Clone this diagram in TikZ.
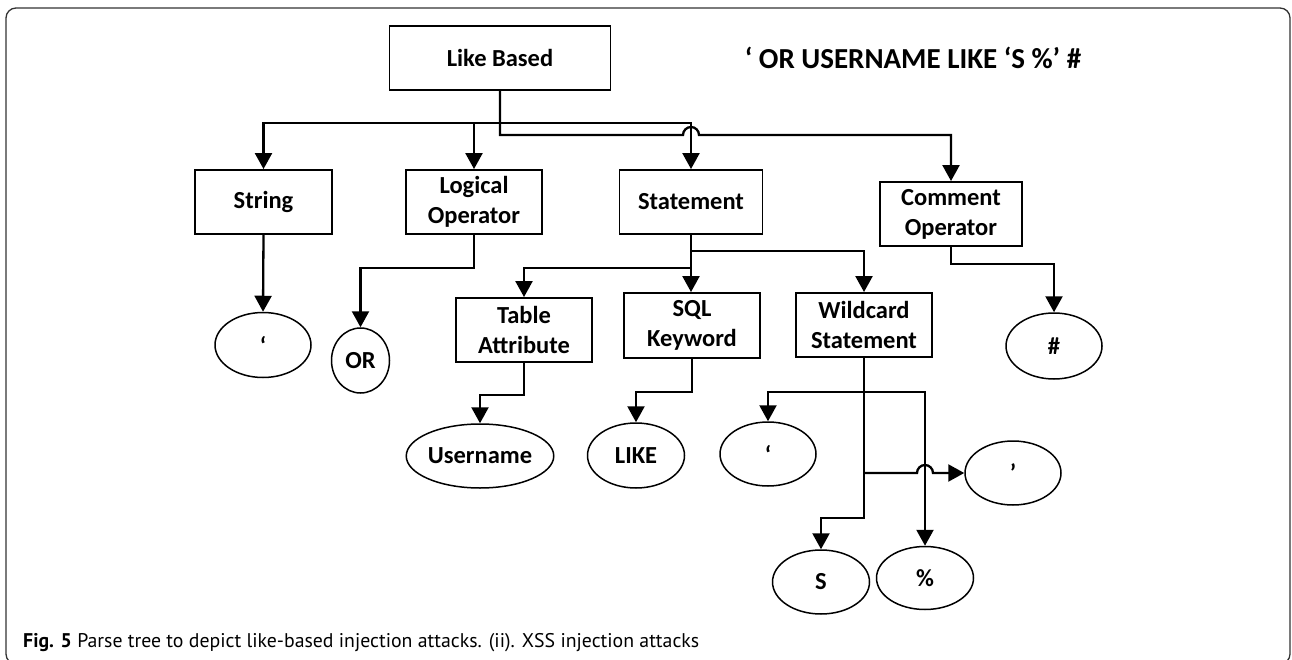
\documentclass[tikz,border=0pt]{standalone}
\usepackage{fontspec}
\setmainfont{Carlito}
\newfontfamily\capfont{PT Sans}
\usetikzlibrary{arrows.meta,shapes.geometric}
\begin{document}
\begin{tikzpicture}[x=1pt,y=-1pt,
  box/.style={draw, line width=1.9pt, inner sep=0pt, align=center, font=\fontsize{24.5}{30}\selectfont\bfseries},
  oval/.style={draw, ellipse, line width=1.5pt, inner sep=0pt, font=\fontsize{24.5}{30}\selectfont\bfseries},
  conn/.style={line width=2.3pt, -{Triangle[width=17pt,length=16pt]}},
  plain/.style={line width=2.3pt}
]
\useasboundingbox (0,0) rectangle (1292,660);
\draw[line width=1.3pt, black!80, rounded corners=10pt] (6,8) rectangle (1290,664);

% boxes
\node[box, minimum width=221pt, minimum height=64pt] (root) at (500,58) {Like Based};
\node[box, minimum width=137pt, minimum height=64pt] (str) at (263.5,202) {String};
\node[box, minimum width=136pt, minimum height=64pt] (logic) at (474,202) {Logical\\Operator};
\node[box, minimum width=143pt, minimum height=64pt] (stmt) at (691,202) {Statement};
\node[box, minimum width=142pt, minimum height=64pt] (cmt) at (951,214) {Comment\\Operator};
\node[box, minimum width=136pt, minimum height=64pt] (tab) at (524,330) {Table\\Attribute};
\node[box, minimum width=136pt, minimum height=65pt] (sql) at (692,325.5) {SQL\\Keyword};
\node[box, minimum width=136pt, minimum height=64pt] (wild) at (864,325) {Wildcard\\Statement};

% ellipses
\node[oval, minimum width=96pt, minimum height=65pt] (q1) at (263,345) {‘};
\node[oval, minimum width=58pt, minimum height=65pt] (or) at (360.5,360.5) {OR};
\node[oval, minimum width=96pt, minimum height=66pt] (hash) at (1054,346) {\#};
\node[oval, minimum width=142pt, minimum height=64pt] (user) at (480,456) {Username};
\node[oval, minimum width=97pt, minimum height=65pt] (like) at (636,455.5) {LIKE};
\node[oval, minimum width=96pt, minimum height=64pt] (q2) at (768,454) {‘};
\node[oval, minimum width=96pt, minimum height=64pt] (q3) at (1013,473) {’};
\node[oval, minimum width=97pt, minimum height=64pt] (s) at (821,582) {S};
\node[oval, minimum width=97pt, minimum height=63pt] (pct) at (925,578) {\%};

% title and caption
\node[font=\fontsize{29}{34}\selectfont\bfseries] (title) at (913,58) {‘ OR USERNAME LIKE ‘S \%’ \#};
\node[anchor=base west, inner sep=0pt, font=\capfont\fontsize{19.8}{24}\selectfont] (cap) at (23,647) {\textbf{Fig. 5} Parse tree to depict like-based injection attacks. (ii). XSS injection attacks};

% connectors
\coordinate (rj) at (500,135);
\coordinate (ru) at (500,123);
\draw[conn] (root.south) -- (rj) -- ([xshift=-8pt]stmt.north |- rj) arc[start angle=180,end angle=0,radius=8pt] -| (cmt.north);
\draw[conn] (ru) -| (str.north);
\draw[conn] (logic.north |- ru) -- (logic.north);
\draw[conn] (ru) -| (stmt.north);

\draw[conn] (str.south) -- (q1.north);
\draw[conn] (logic.south) -- ++(0,33) -| (or.north);
\draw[conn] (stmt.south) -- (stmt.south |- sql.north);
\draw[conn] ([yshift=-33pt]stmt.south) -| (tab.north);
\draw[conn] ([yshift=-16pt]stmt.south) -| (wild.north);
\draw[conn] (cmt.south) -- ++(0,17) -| (hash.north);
\draw[conn] (tab.south) -- ++(0,32) -| (user.north);
\draw[conn] (sql.south) -- ++(0,33) -| (like.north);

\draw[conn] (wild.south) -- ++(0,160) -| (s.north);
\draw[conn] ([yshift=-34pt]wild.south) -| (q2.north);
\draw[conn] ([yshift=-34pt]wild.south) -| (pct.north);
\draw[conn] (wild.south |- q3.west) -- ([xshift=-8pt]pct.north |- q3.west) arc[start angle=180,end angle=0,radius=8pt] -- (q3.west);
\end{tikzpicture}
\end{document}
